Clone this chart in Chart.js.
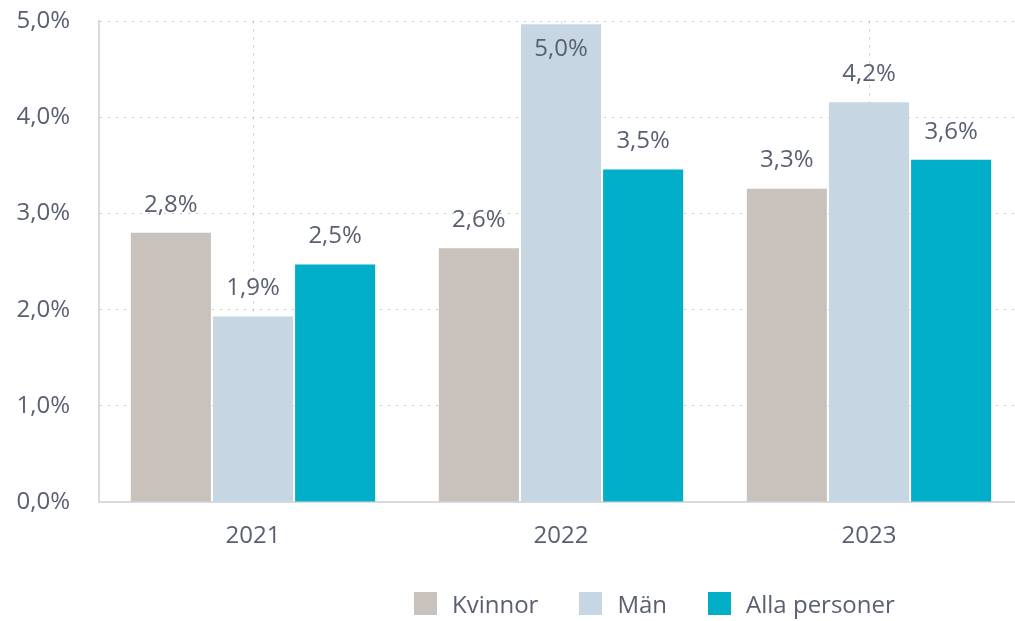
<!DOCTYPE html>
<html>
<head>
<meta charset="utf-8">
<script src="https://cdn.jsdelivr.net/npm/chart.js@4"></script>
<style>
  html, body { margin: 0; padding: 0; background: #fff; overflow: hidden; }
  #wrap { position: relative; width: 1030px; height: 621px; overflow: hidden; }
  #myChart { position: absolute; left: 0; top: -22px; }
  #legend { position: absolute; left: 414px; top: 587px; display: flex; font-family: "Open Sans", sans-serif; font-size: 24px; color: #5a6072; }
  #legend .item { display: flex; align-items: center; margin-right: 41px; }
  #legend .box { width: 23px; height: 23px; margin-right: 15px; }
</style>
</head>
<body>
<div id="wrap">
  <canvas id="myChart" width="1030" height="643"></canvas>
  <div id="legend"></div>
</div>
<script>
'use strict';

var years = ['2021', '2022', '2023'];
var kvinnor = [2.80, 2.64, 3.26];
var man = [1.93, 4.97, 4.16];
var alla = [2.47, 3.46, 3.56];
var seriesNames = ['Kvinnor', 'Män', 'Alla personer'];
var seriesColors = ['#c9c2bc', '#c6d6e3', '#00aec8'];

var textColor = '#5a6072';
var fontFamily = '"Open Sans", sans-serif';

function fmt(v){
    return v.toFixed(1).replace('.', ',') + '%';
}

// values above bars
var barLabels = {
    id: 'barLabels',
    afterDatasetsDraw: function(chart){
        var ctx = chart.ctx;
        var top = chart.chartArea.top;
        ctx.save();
        ctx.font = '24px ' + fontFamily;
        ctx.fillStyle = textColor;
        ctx.textAlign = 'center';
        ctx.textBaseline = 'middle';
        chart.data.datasets.forEach(function(ds, i){
            chart.getDatasetMeta(i).data.forEach(function(bar, j){
                var y = bar.y - 28;
                if( y < top + 10 )
                    y = bar.y + 25;
                ctx.fillText(fmt(ds.data[j]), bar.x, y);
            });
        });
        ctx.restore();
    }
};

var ctx = document.getElementById('myChart');
var myChart = new Chart(ctx, {
    type: 'bar',
    data: {
        labels: years,
        datasets: [kvinnor, man, alla].map(function(d, i){
            return {
                label: seriesNames[i],
                data: d,
                backgroundColor: seriesColors[i],
                borderWidth: 0,
                categoryPercentage: 0.8,
                barPercentage: 0.975
            };
        })
    },
    options: {
        responsive: false,
        animation: false,
        layout: {
            padding: { top: 2, right: 7, bottom: 59, left: 0 }
        },
        plugins: {
            legend: { display: false },
            tooltip: { enabled: false }
        },
        scales: {
            x: {
                afterFit: function(s){ s.height = 60; },
                grid: {
                    offset: false,
                    drawTicks: false,
                    color: '#c9c9c9',
                    lineWidth: 1
                },
                border: { color: '#d9d9e0', width: 2, dash: [2, 6] },
                ticks: {
                    color: textColor,
                    padding: 20,
                    font: { family: fontFamily, size: 24 }
                }
            },
            y: {
                min: 0,
                max: 5,
                afterFit: function(s){ s.width = 99; },
                grid: {
                    drawTicks: false,
                    color: '#c9c9c9',
                    lineWidth: 1
                },
                border: { color: '#d9d9e0', width: 2, dash: [2, 6] },
                ticks: {
                    stepSize: 1,
                    color: textColor,
                    padding: 29,
                    font: { family: fontFamily, size: 24 },
                    callback: function(v){ return fmt(v); }
                }
            }
        }
    },
    plugins: [barLabels]
});

// legend
var legend = document.getElementById('legend');
seriesNames.forEach(function(name, i){
    var item = document.createElement('div');
    item.className = 'item';
    var box = document.createElement('span');
    box.className = 'box';
    box.style.background = seriesColors[i];
    item.appendChild(box);
    item.appendChild(document.createTextNode(name));
    legend.appendChild(item);
});
</script>
</body>
</html>
